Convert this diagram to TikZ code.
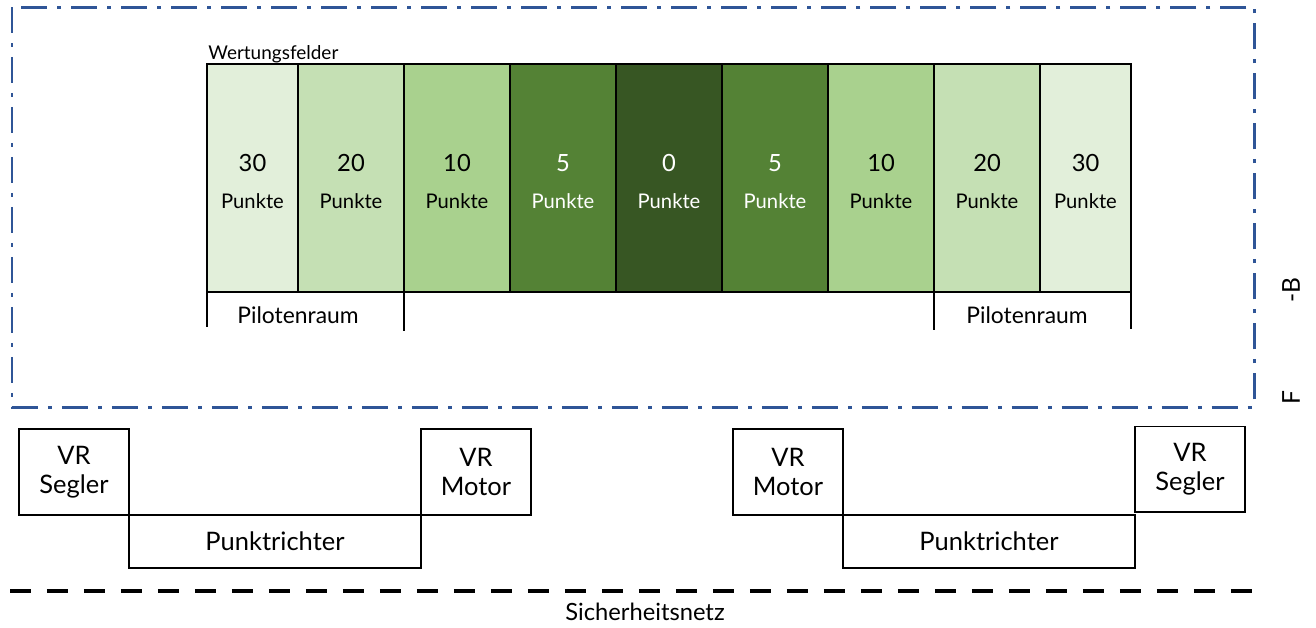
\documentclass[tikz,border=0pt]{standalone}
\usepackage{fontspec}
\setmainfont{Lato}
\usepackage{xcolor}
\usetikzlibrary{positioning}
\definecolor{rahmenblau}{HTML}{2F5597}
\definecolor{gruenA}{HTML}{E2EFDA}
\definecolor{gruenB}{HTML}{C5E0B4}
\definecolor{gruenC}{HTML}{A9D18E}
\definecolor{gruenD}{HTML}{548235}
\definecolor{gruenE}{HTML}{375623}

\begin{document}
\begin{tikzpicture}[x=0.02cm,y=-0.02cm,
		feld/.style={draw,line width=1.1pt,inner sep=0pt,outer sep=0pt,minimum height=4.56cm},
		zahl/.style={font=\fontsize{13.5}{16}\selectfont,inner sep=0pt},
		punkte/.style={font=\fontsize{11.5}{14}\selectfont,inner sep=0pt},
		kasten/.style={draw,line width=1pt,inner sep=0pt,outer sep=0pt,align=center,
			font=\fontsize{14.5}{16.5}\selectfont,minimum width=2.2cm,minimum height=1.72cm},
		trichter/.style={kasten,minimum width=5.84cm,minimum height=1.06cm}]
	\useasboundingbox (0,0) rectangle (1316,627);
	%
	\draw[rahmenblau,line width=1.7pt,dash pattern=on 0.52cm off 0.2cm on 0.08cm off 0.2cm]
		(12,7) rectangle (1254,407);
	%
	\foreach \i/\cx/\w/\col/\pts/\tc in {1/252.5/1.82/gruenA/30/black,2/351/2.12/gruenB/20/black,
			3/457/2.12/gruenC/10/black,4/563/2.12/gruenD/5/white,5/669/2.12/gruenE/0/white,
			6/775/2.12/gruenD/5/white,7/881/2.12/gruenC/10/black,8/987/2.12/gruenB/20/black,
			9/1085.5/1.82/gruenA/30/black}{
		\node[feld,fill=\col,minimum width=\w cm] (f\i) at (\cx,178) {};
		\node[zahl,text=\tc] (z\i) at (\cx,163) {\pts};
		\node[punkte,text=\tc] (p\i) at (\cx,201) {Punkte};
	}
	\node[anchor=south west,inner sep=0.6pt,font=\fontsize{10.8}{12}\selectfont] (wf) at (f1.north west) {Wertungsfelder};
	%
	\draw[line width=0.6pt] (f1.south west) -- ++(0,35);
	\draw[line width=0.6pt] (f3.south west) -- ++(0,39);
	\draw[line width=0.6pt] (f8.south west) -- ++(0,38);
	\draw[line width=0.6pt] (f9.south east) -- ++(0,37);
	\node[font=\fontsize{13}{15}\selectfont] (pl) at (298,315) {Pilotenraum};
	\node[font=\fontsize{13}{15}\selectfont] (pr) at (1027,315) {Pilotenraum};
	%
	\node[kasten] (vrs1) at (74,472) {VR\\Segler};
	\node[trichter,below right=0pt and 0pt of vrs1.south east,anchor=north west] (pt1) {Punktrichter};
	\node[kasten,anchor=south west] (vrm1) at (pt1.north east) {VR\\Motor};
	%
	\node[kasten] (vrm2) at (788,472) {VR\\Motor};
	\node[trichter,anchor=north west] (pt2) at (vrm2.south east) {Punktrichter};
	\node[kasten,anchor=south west] (vrs2) at ([yshift=1.5pt]pt2.north east) {VR\\Segler};
	%
	\coordinate (netzL) at (10,591);
	\coordinate (netzR) at (1262,591);
	\draw[line width=2.8pt,dash pattern=on 0.42cm off 0.32cm] (netzL) -- (netzR);
	\node[font=\fontsize{13.5}{15}\selectfont] (netz) at (645,612) {Sicherheitsnetz};
	%
	\node[rotate=90,font=\fontsize{14}{16}\selectfont,inner sep=0pt] (rb) at (1291,290) {-B};
	\node[rotate=90,font=\fontsize{14}{16}\selectfont,inner sep=0pt] (rf) at (1291,398) {F};
\end{tikzpicture}
\end{document}
